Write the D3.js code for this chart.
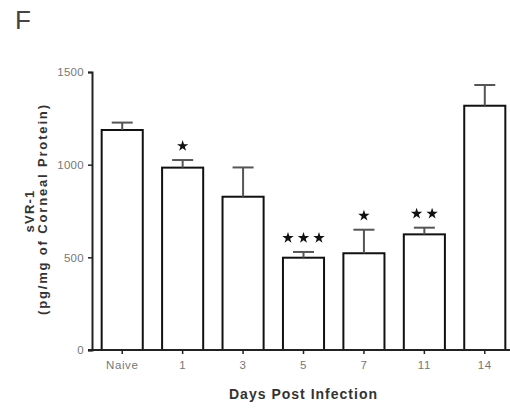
<!DOCTYPE html>
<html>
<head>
<meta charset="utf-8">
<script src="https://cdn.jsdelivr.net/npm/d3@7"></script>
<style>
  body { margin: 0; background: #fff; }
  text { font-family: "Liberation Sans", Arial, sans-serif; }
</style>
</head>
<body>
<svg id="chart" width="510" height="408"></svg>
<script>
// data
const days = ["Naive", "1", "3", "5", "7", "11", "14"];
const means = [1187, 984, 827, 498, 522, 624, 1318];
const errTop = [1227, 1025, 985, 529, 649, 660, 1430];
const stars = [0, 1, 0, 3, 1, 2, 0];
const yTicks = [0, 500, 1000, 1500];

const svg = d3.select("#chart");

const x = d3.scaleBand().domain(days).range([92, 515]).paddingInner(0.32).paddingOuter(0.16);
const y = d3.scaleLinear().domain([0, 1500]).range([350, 72]);

// panel letter
svg.append("text").attr("x", 15).attr("y", 29)
  .attr("font-size", 26).attr("fill", "#444").text("F");

// bars
svg.selectAll(".bar").data(days).enter().append("rect")
  .attr("class", "bar")
  .attr("x", d => x(d))
  .attr("y", (d, i) => y(means[i]))
  .attr("width", x.bandwidth())
  .attr("height", (d, i) => y(0) - y(means[i]))
  .attr("fill", "#fff").attr("stroke", "#111").attr("stroke-width", 2);

// error bars (upper only)
const capW = 21;
days.forEach((d, i) => {
  const cx = x(d) + x.bandwidth() / 2;
  svg.append("line")
    .attr("x1", cx).attr("x2", cx)
    .attr("y1", y(means[i])).attr("y2", y(errTop[i]))
    .attr("stroke", "#555").attr("stroke-width", 2);
  svg.append("line")
    .attr("x1", cx - capW / 2).attr("x2", cx + capW / 2)
    .attr("y1", y(errTop[i])).attr("y2", y(errTop[i]))
    .attr("stroke", "#555").attr("stroke-width", 2);

  // significance stars
  const n = stars[i];
  for (let k = 0; k < n; k++) {
    const sx = cx + (k - (n - 1) / 2) * 15.5;
    svg.append("path")
      .attr("d", d3.symbol(d3.symbolStar, 40)())
      .attr("transform", `translate(${sx},${y(errTop[i]) - 14})`)
      .attr("fill", "#111");
  }
});

// y axis
const yAxis = svg.append("g").attr("transform", "translate(92,0)")
  .call(d3.axisLeft(y).tickValues(yTicks).tickFormat(d3.format("d")).tickSize(4).tickPadding(4));
yAxis.select(".domain").attr("stroke", "#222").attr("stroke-width", 2);
yAxis.selectAll(".tick line").attr("stroke", "#222").attr("stroke-width", 1.5);
yAxis.selectAll(".tick text").attr("font-size", 11.5).attr("fill", "#777")
  .attr("letter-spacing", 0.3)
  .attr("font-family", "Liberation Sans, Arial, sans-serif");

// x axis
const xAxis = svg.append("g").attr("transform", "translate(0,350)")
  .call(d3.axisBottom(x).tickSize(4).tickPadding(6.5).tickSizeOuter(0));
xAxis.select(".domain").attr("stroke", "#222").attr("stroke-width", 2)
  .attr("d", "M88,0H512");
xAxis.selectAll(".tick line").attr("stroke", "#222").attr("stroke-width", 1.5);
xAxis.selectAll(".tick text").attr("font-size", 11.5).attr("fill", "#777")
  .attr("letter-spacing", 0.6)
  .attr("font-family", "Liberation Sans, Arial, sans-serif");

// axis titles
svg.append("text")
  .attr("transform", "translate(34,211) rotate(-90)")
  .attr("text-anchor", "middle")
  .attr("font-size", 13).attr("font-weight", "bold").attr("fill", "#333")
  .attr("letter-spacing", 1.2)
  .text("sVR-1");
svg.append("text")
  .attr("transform", "translate(47,210) rotate(-90)")
  .attr("text-anchor", "middle")
  .attr("font-size", 13).attr("font-weight", "bold").attr("fill", "#333")
  .attr("textLength", 210).attr("lengthAdjust", "spacing")
  .text("(pg/mg of Corneal Protein)");

svg.append("text")
  .attr("x", 303).attr("y", 399)
  .attr("text-anchor", "middle")
  .attr("font-size", 14).attr("font-weight", "bold").attr("fill", "#333")
  .attr("textLength", 148).attr("lengthAdjust", "spacing")
  .text("Days Post Infection");
</script>
</body>
</html>
